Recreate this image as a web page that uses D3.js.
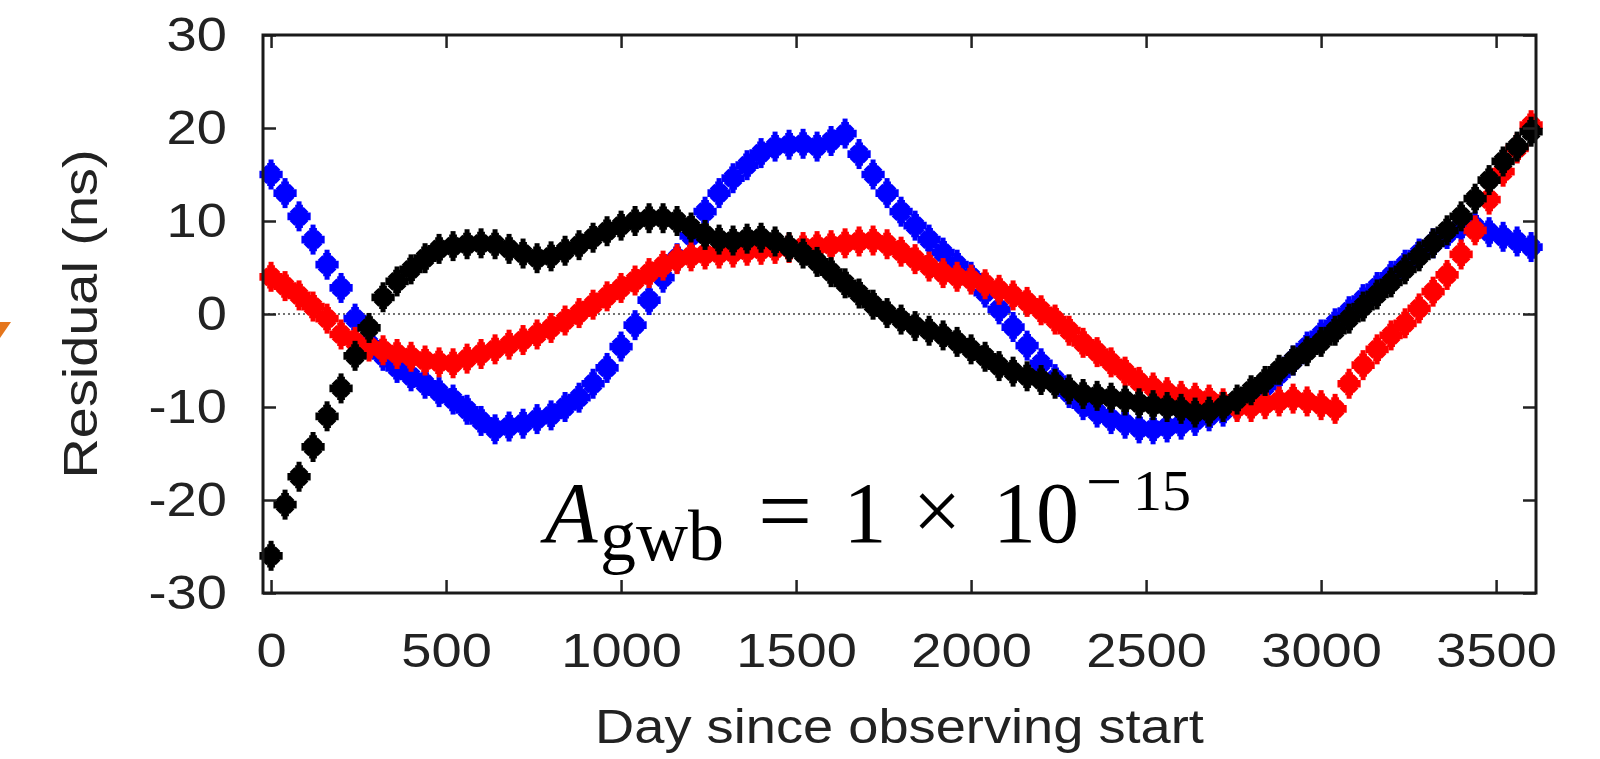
<!DOCTYPE html>
<html>
<head>
<meta charset="utf-8">
<script src="https://cdn.jsdelivr.net/npm/d3@7"></script>
<style>
    body { margin: 0; background: #fff; }
    svg { display: block; }
</style>
</head>
<body>
<svg id="chart" width="1600" height="759"></svg>
<script>
// residuals (ns), one value every 40 days from day 0 to day 3600
const dayStep = 40;

const blueResidual = [
    15, 13, 10.5, 8, 5.3, 2.8, -0.5, -3.2, -4.5, -5.8,
    -6.7, -7.5, -8.4, -9.2, -10.3, -11.5, -12.4, -12.1, -11.8, -11.3,
    -10.9, -10, -9, -7.5, -5.8, -3.5, -1.2, 1.5, 3.9, 6,
    8.4, 11, 13, 14.6, 16, 17.3, 18, 18.2, 18.3, 18,
    18.6, 19.4, 17.2, 15, 13, 11, 9.5, 8, 6.6, 5.3,
    4, 2.3, 0.5, -1.4, -3.4, -5.3, -7, -8.5, -9.8, -10.6,
    -11.3, -11.8, -12.3, -12.4, -12.2, -11.9, -11.5, -11, -10.5, -9.8,
    -9.1, -7.8, -6.5, -5, -3.5, -2.2, -1, 0.3, 1.6, 2.9,
    4.1, 5.3, 6.5, 7.6, 8.6, 9.4, 9.4, 8.8, 8.3, 7.8,
    7.2
];

const redResidual = [
    4, 3, 2, 0.8, -0.5, -2.2, -3, -3.5, -3.9, -4.3,
    -4.6, -5, -5.2, -5.3, -4.8, -4.3, -3.8, -3.3, -2.8, -2.2,
    -1.5, -0.7, 0.1, 1, 1.9, 2.8, 3.6, 4.4, 5.2, 5.9,
    6.2, 6.4, 6.5, 6.6, 6.8, 6.9, 7, 7.1, 7.2, 7.3,
    7.4, 7.6, 7.8, 7.9, 7.5, 6.7, 5.9, 5.1, 4.4, 4,
    3.7, 3.2, 2.6, 2, 1.3, 0.4, -0.6, -1.8, -3.1, -4.1,
    -5.2, -6.2, -7.3, -7.9, -8.4, -8.8, -9, -9.2, -9.6, -10,
    -10, -9.7, -9.4, -9.1, -9.4, -9.8, -10.2, -7.5, -5.5, -3.8,
    -2.3, -1, 0.6, 2.4, 4.2, 6.4, 9, 12.3, 15.3, 17.8,
    20.3
];

const blackResidual = [
    -26, -20.5, -17.5, -14.3, -11, -8, -4.5, -1.5, 1.8, 3.5,
    4.8, 6, 7, 7.3, 7.5, 7.6, 7.5, 7, 6.5, 6,
    6.2, 6.8, 7.4, 8.2, 8.9, 9.5, 10, 10.3, 10.3, 10,
    9.3, 8.5, 8, 7.9, 8.1, 8.2, 7.8, 7.2, 6.5, 5.6,
    4.5, 3.3, 2.2, 1, 0.1, -0.6, -1.3, -1.8, -2.3, -3,
    -3.8, -4.6, -5.6, -6.2, -6.7, -7.1, -7.5, -8.1, -8.6, -8.8,
    -9, -9.3, -9.6, -9.8, -10, -10.2, -10.6, -10.5, -10, -9.2,
    -8.2, -7.2, -6, -5, -4, -3, -1.8, -0.5, 0.8, 2.1,
    3.4, 4.8, 6.2, 7.6, 9, 10.5, 12.4, 14.4, 16.4, 18,
    19.6
];

const series = [
    { name: 'blue', color: '#0000ff', values: blueResidual },
    { name: 'red', color: '#ff0000', values: redResidual },
    { name: 'black', color: '#000000', values: blackResidual }
];

const xTicks = [0, 500, 1000, 1500, 2000, 2500, 3000, 3500];
const yTicks = [-30, -20, -10, 0, 10, 20, 30];

const svg = d3.select('#chart');
const sansFont = '"Liberation Sans", Arial, Helvetica, sans-serif';
const serifFont = '"Liberation Serif", "Times New Roman", serif';
const stretch = 'scale(1.13,1)';

const plot = { left: 263, right: 1536, top: 35, bottom: 593 };

const x = d3.scaleLinear().domain([-23, 3614]).range([plot.left, plot.right]);
const y = d3.scaleLinear().domain([-30, 30]).range([plot.bottom, plot.top]);

// zero reference line
svg.append('line')
    .attr('x1', plot.left).attr('x2', plot.right)
    .attr('y1', y(0)).attr('y2', y(0))
    .attr('stroke', '#444')
    .attr('stroke-width', 1.6)
    .attr('stroke-dasharray', '2,3');

// data points: chunky asterisk with an error bar
const star = d3.symbol().type(d3.symbolCross).size(300);
const starDiag = d3.symbol().type(d3.symbolCross).size(220);

series.forEach(s => {
    const points = s.values.map((v, i) => ({ day: i * dayStep, value: v }));
    const g = svg.append('g').attr('class', `series-${s.name}`).attr('fill', s.color).attr('stroke', s.color);

    const pt = g.selectAll('g.pt')
        .data(points)
        .enter()
        .append('g')
        .attr('class', 'pt')
        .attr('transform', d => `translate(${x(d.day)},${y(d.value)})`);

    pt.append('line')
        .attr('y1', -15).attr('y2', 15)
        .attr('stroke-width', 5);

    pt.append('path')
        .attr('d', star)
        .attr('stroke', 'none');

    pt.append('path')
        .attr('d', starDiag)
        .attr('transform', 'rotate(45)')
        .attr('stroke', 'none');
});

// axes (inward ticks on all four sides)
function styleAxis(g) {
    g.select('.domain').remove();
    g.selectAll('.tick line').attr('stroke', '#222').attr('stroke-width', 2.5);
    g.attr('font-family', sansFont).attr('font-size', 48);
    g.selectAll('.tick text').attr('fill', '#222').attr('transform', stretch);
}

const plain = d => String(d);

svg.append('g')
    .attr('transform', `translate(0,${plot.bottom})`)
    .call(d3.axisBottom(x).tickValues(xTicks).tickFormat(plain).tickSizeInner(-13).tickSizeOuter(0).tickPadding(40))
    .call(styleAxis);

svg.append('g')
    .attr('transform', `translate(0,${plot.top})`)
    .call(d3.axisTop(x).tickValues(xTicks).tickSizeInner(-13).tickSizeOuter(0).tickFormat(''))
    .call(styleAxis);

svg.append('g')
    .attr('transform', `translate(${plot.left},0)`)
    .call(d3.axisLeft(y).tickValues(yTicks).tickFormat(plain).tickSizeInner(-13).tickSizeOuter(0).tickPadding(32))
    .call(styleAxis);

svg.append('g')
    .attr('transform', `translate(${plot.right},0)`)
    .call(d3.axisRight(y).tickValues(yTicks).tickSizeInner(-13).tickSizeOuter(0).tickFormat(''))
    .call(styleAxis);

// frame
svg.append('rect')
    .attr('x', plot.left).attr('y', plot.top)
    .attr('width', plot.right - plot.left).attr('height', plot.bottom - plot.top)
    .attr('fill', 'none')
    .attr('stroke', '#1a1a1a')
    .attr('stroke-width', 3);

// axis titles
svg.append('g')
    .attr('transform', `translate(${(plot.left + plot.right) / 2},743)`)
    .append('text')
    .attr('transform', stretch)
    .attr('text-anchor', 'middle')
    .attr('font-family', sansFont)
    .attr('font-size', 48)
    .attr('fill', '#222')
    .text('Day since observing start');

svg.append('g')
    .attr('transform', `translate(97,${y(0)}) rotate(-90)`)
    .append('text')
    .attr('transform', 'scale(1.14,1)')
    .attr('text-anchor', 'middle')
    .attr('font-family', sansFont)
    .attr('font-size', 49)
    .attr('fill', '#222')
    .text('Residual (ns)');

// amplitude annotation
const note = svg.append('g').attr('font-family', serifFont).attr('fill', '#000');
note.append('text').attr('x', 545).attr('y', 542).attr('font-size', 86).attr('font-style', 'italic').text('A');
note.append('text').attr('x', 600).attr('y', 560).attr('font-size', 72).text('gwb');
note.append('text').attr('x', 785).attr('y', 543).attr('font-size', 96).attr('text-anchor', 'middle').text('=');
note.append('text').attr('x', 865).attr('y', 542).attr('font-size', 86).attr('text-anchor', 'middle').text('1');
note.append('text').attr('x', 937).attr('y', 540).attr('font-size', 86).attr('text-anchor', 'middle').text('×');
note.append('text').attr('x', 1036).attr('y', 542).attr('font-size', 86).attr('text-anchor', 'middle').text('10');
note.append('text').attr('x', 1104).attr('y', 503).attr('font-size', 64).attr('text-anchor', 'middle').text('−');
note.append('text').attr('x', 1162).attr('y', 510).attr('font-size', 58).attr('text-anchor', 'middle').text('15');

// orange arrow tip cut off at the left edge
svg.append('polygon')
    .attr('points', '0,322 11,322 0,338')
    .attr('fill', '#e5761c');
</script>
</body>
</html>
